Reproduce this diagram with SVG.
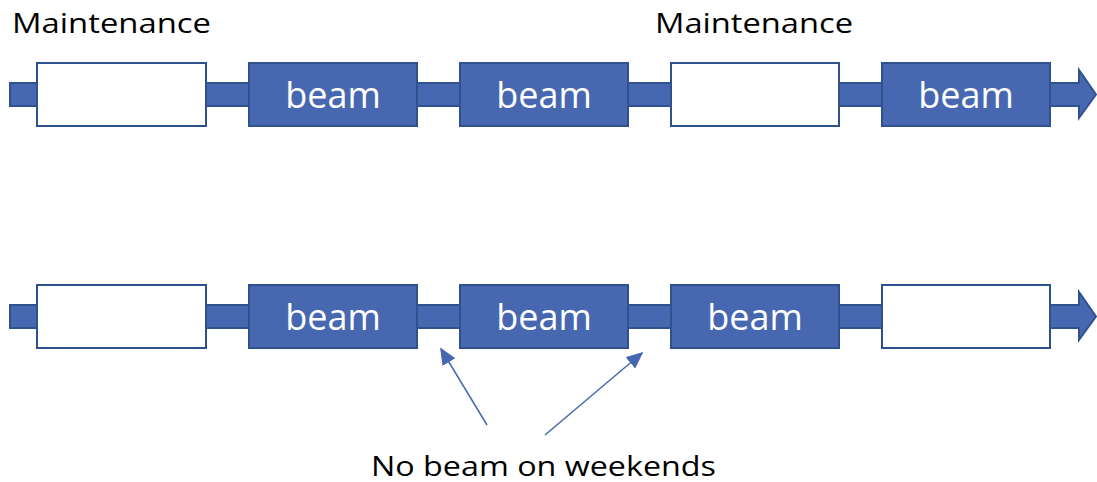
<svg xmlns="http://www.w3.org/2000/svg" width="1097" height="482" viewBox="0 0 1097 482">
<defs>
<style>
.shaft{fill:#4768B0;stroke:#2F528F;stroke-width:2}
.beam{fill:#4768B0;stroke:#2F528F;stroke-width:2}
.maint{fill:#FFFFFF;stroke:#2F528F;stroke-width:2}
.bt{font-family:"Open Sans","Liberation Sans",sans-serif;font-size:36px;fill:#FFFFFF;text-anchor:middle}
.lbl{font-family:"Open Sans","Liberation Sans",sans-serif;font-size:27px;fill:#000000}
.ann{stroke:#4768B0;stroke-width:1.5;fill:none}
</style>
<marker id="ah" viewBox="0 0 10 10" refX="9" refY="5" markerWidth="17" markerHeight="15" markerUnits="userSpaceOnUse" orient="auto" preserveAspectRatio="none">
<path d="M0,0 L10,5 L0,10 z" fill="#4768B0"/>
</marker>
</defs>
<g id="connectors">
<path class="shaft" d="M10,83 H1079 V70 L1096,94.5 L1079,118 V106 H10 Z"/>
<path class="shaft" d="M10,305 H1079 V292 L1096,316.5 L1079,340 V328 H10 Z"/>
<line class="ann" x1="487" y1="425" x2="441" y2="349" marker-end="url(#ah)"/>
<line class="ann" x1="545" y1="435" x2="642" y2="353" marker-end="url(#ah)"/>
</g>
<g id="r1n1"><rect class="maint" x="37" y="63" width="169" height="63"/></g>
<g id="r1n2"><rect class="beam" x="249" y="63" width="168" height="63"/><text class="bt" x="333" y="108">beam</text></g>
<g id="r1n3"><rect class="beam" x="460" y="63" width="168" height="63"/><text class="bt" x="544" y="108">beam</text></g>
<g id="r1n4"><rect class="maint" x="671" y="63" width="168" height="63"/></g>
<g id="r1n5"><rect class="beam" x="882" y="63" width="168" height="63"/><text class="bt" x="966" y="108">beam</text></g>
<g id="r2n1"><rect class="maint" x="37" y="285" width="169" height="63"/></g>
<g id="r2n2"><rect class="beam" x="249" y="285" width="168" height="63"/><text class="bt" x="333" y="330">beam</text></g>
<g id="r2n3"><rect class="beam" x="460" y="285" width="168" height="63"/><text class="bt" x="544" y="330">beam</text></g>
<g id="r2n4"><rect class="beam" x="671" y="285" width="168" height="63"/><text class="bt" x="755" y="330">beam</text></g>
<g id="r2n5"><rect class="maint" x="882" y="285" width="168" height="63"/></g>
<g id="labels">
<text class="lbl" x="12" y="33" textLength="199" lengthAdjust="spacingAndGlyphs">Maintenance</text>
<text class="lbl" x="655" y="33" textLength="198" lengthAdjust="spacingAndGlyphs">Maintenance</text>
<text class="lbl" x="371" y="476" textLength="345" lengthAdjust="spacingAndGlyphs">No beam on weekends</text>
</g>
</svg>
